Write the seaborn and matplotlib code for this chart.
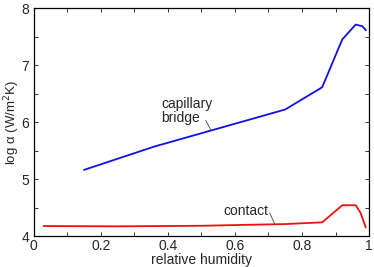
import matplotlib
matplotlib.use("Agg")
import matplotlib.pyplot as plt
import pandas as pd
import seaborn as sns
from matplotlib.ticker import MultipleLocator

# values
bridge_rh = [0.15, 0.36, 0.57, 0.75, 0.86, 0.92, 0.96, 0.98, 0.99]
bridge_log_alpha = [5.16, 5.57, 5.92, 6.22, 6.61, 7.45, 7.71, 7.68, 7.61]
contact_rh = [0.03, 0.25, 0.50, 0.75, 0.86, 0.92, 0.96, 0.975, 0.99]
contact_log_alpha = [4.175, 4.17, 4.18, 4.21, 4.24, 4.54, 4.54, 4.40, 4.15]
x_ticks = [0, 0.2, 0.4, 0.6, 0.8, 1]
x_tick_labels = ["0", "0.2", "0.4", "0.6", "0.8", "1"]
y_ticks = [4, 5, 6, 7, 8]

sns.set_theme(style="ticks")
plt.rcParams["font.family"] = ["Liberation Sans", "DejaVu Sans"]

bridge = pd.DataFrame({"rh": bridge_rh, "val": bridge_log_alpha})
contact = pd.DataFrame({"rh": contact_rh, "val": contact_log_alpha})

fig, ax = plt.subplots(figsize=(3.74, 2.67), dpi=100)
sns.lineplot(data=bridge, x="rh", y="val", color="#1010ee", linewidth=1.3, ax=ax)
sns.lineplot(data=contact, x="rh", y="val", color="#ee1010", linewidth=1.3, ax=ax)

ax.set_xlim(0, 1)
ax.set_ylim(4, 8)
ax.set_xticks(x_ticks)
ax.set_xticklabels(x_tick_labels)
ax.set_yticks(y_ticks)
ax.set_yticklabels([str(v) for v in y_ticks])
ax.xaxis.set_minor_locator(MultipleLocator(0.1))
ax.yaxis.set_minor_locator(MultipleLocator(0.5))
ax.tick_params(which="both", direction="in", top=True, right=True, labelsize=10,
               length=3, width=0.7, pad=2, color="#333333")
ax.tick_params(axis="y", pad=3)
for s in ax.spines.values():
    s.set_linewidth(0.9)
    s.set_color("black")

ax.set_xlabel("relative humidity", fontsize=10, labelpad=0)
ax.set_ylabel("log α (W/m$^2$K)", fontsize=9.5, labelpad=0)

# labels with short leader lines
ax.text(0.38, 6.44, "capillary\nbridge", ha="left", va="top", fontsize=10, linespacing=1.05)
ax.annotate("", xy=(0.528, 5.86), xytext=(0.513, 6.03),
            arrowprops=dict(arrowstyle="-", color="#444444", lw=0.6, shrinkA=0, shrinkB=0))
ax.text(0.70, 4.31, "contact", ha="right", va="bottom", fontsize=10)
ax.annotate("", xy=(0.718, 4.22), xytext=(0.703, 4.41),
            arrowprops=dict(arrowstyle="-", color="#444444", lw=0.6, shrinkA=0, shrinkB=0))

fig.subplots_adjust(left=0.09, right=0.987, top=0.97, bottom=0.116)
fig.savefig("out.png", dpi=100)
